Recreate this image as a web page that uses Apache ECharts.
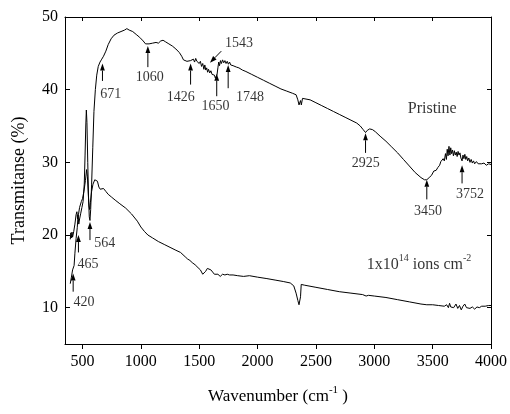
<!DOCTYPE html>
<html>
<head>
<meta charset="utf-8">
<script src="https://cdn.jsdelivr.net/npm/echarts@6/dist/echarts.min.js"></script>
<style>
  html, body { margin: 0; padding: 0; background: #fff; }
  #chart { width: 510px; height: 414px; }
</style>
</head>
<body>
<div id="chart"></div>
<script>
// FTIR transmittance spectra: pristine film and film irradiated at 1x10^14 ions cm^-2
const pristineWn = [395,405,415,420,428,435,445,455,462,468,475,485,495,505,515,522,528,533,538,545,552,558,564,570,578,588,598,610,622,635,650,665,680,700,720,745,770,800,830,860,880,900,930,960,990,1020,1040,1055,1070,1085,1100,1115,1130,1150,1170,1190,1210,1240,1270,1300,1330,1350,1365,1380,1395,1410,1426,1440,1450,1460,1470,1480,1490,1500,1510,1520,1530,1540,1548,1556,1564,1572,1580,1590,1600,1610,1620,1630,1638,1645,1652,1660,1667,1674,1682,1690,1700,1710,1720,1730,1740,1750,1760,1770,1780,1790,1800,1820,1840,1870,1900,1950,2000,2050,2100,2150,2200,2250,2300,2330,2345,2355,2362,2368,2375,2385,2400,2450,2500,2550,2600,2650,2700,2750,2800,2850,2880,2905,2925,2940,2960,2985,3010,3050,3100,3150,3200,3250,3300,3350,3400,3430,3450,3470,3490,3510,3530,3545,3560,3570,3580,3590,3600,3610,3618,3625,3632,3640,3648,3655,3662,3670,3678,3686,3694,3702,3710,3718,3726,3734,3742,3752,3760,3768,3776,3784,3792,3800,3810,3820,3830,3840,3850,3860,3875,3890,3905,3920,3940,3960,3980,4000];
const pristineT = [13.3,14.2,15.2,15.4,15.8,17.5,19.5,21.0,22.8,21.5,22.2,23.0,23.8,24.6,27.0,31.0,35.0,37.2,35.5,30.0,25.0,22.5,22.0,23.5,27.0,32.0,37.0,40.0,42.0,43.2,43.8,44.2,44.6,45.3,46.2,47.0,47.5,47.8,48.0,48.2,48.4,48.2,48.0,47.6,47.2,46.7,46.3,46.1,46.3,46.2,46.4,46.3,46.5,46.4,46.7,46.8,46.6,46.3,46.0,45.6,45.1,44.6,44.1,43.9,43.9,43.8,44.0,43.9,44.2,43.8,44.3,43.9,44.1,43.6,43.9,43.2,43.6,42.8,43.4,42.7,43.0,42.4,42.8,42.3,42.6,42.1,42.3,42.0,41.6,41.5,42.0,43.0,43.8,43.3,44.0,43.6,44.1,43.7,44.0,43.6,43.9,43.5,43.8,43.4,43.6,43.3,43.4,43.1,43.0,42.7,42.5,42.1,41.7,41.3,40.9,40.5,40.1,39.8,39.5,39.3,38.6,37.9,37.7,38.5,37.9,38.8,39.0,38.6,38.2,37.8,37.4,37.0,36.6,36.2,35.8,35.4,35.0,34.5,34.1,34.4,34.6,34.5,34.2,33.6,32.9,32.1,31.3,30.4,29.5,28.6,27.9,27.6,27.6,27.9,28.2,28.8,28.9,29.3,29.6,30.1,29.9,30.5,30.2,31.2,30.4,31.8,30.9,32.2,31.0,32.0,31.2,31.7,30.9,31.6,31.0,31.4,30.8,31.5,31.0,31.3,30.6,30.2,31.0,30.5,31.1,30.4,30.8,30.2,30.6,30.0,30.4,29.9,30.2,29.8,30.1,29.8,30.0,29.8,29.9,29.6,29.8,29.7];

const irradWn = [395,400,405,410,415,420,425,435,445,452,458,465,475,490,500,512,525,535,542,550,556,561,568,578,590,605,617,628,640,652,665,680,700,720,750,780,820,870,920,970,1000,1030,1060,1100,1150,1200,1250,1300,1340,1380,1400,1420,1440,1455,1465,1475,1490,1500,1510,1520,1530,1540,1555,1570,1585,1600,1615,1630,1645,1660,1680,1700,1720,1740,1760,1790,1830,1880,1930,2000,2080,2150,2220,2280,2310,2330,2345,2355,2362,2368,2374,2385,2400,2500,2600,2700,2800,2900,2930,2950,3000,3100,3200,3300,3400,3450,3500,3550,3600,3620,3635,3645,3655,3665,3680,3700,3715,3730,3745,3760,3775,3790,3805,3820,3840,3860,3880,3900,3920,3950,3980,4000];
const irradT = [19.4,20.3,19.6,20.4,19.7,19.5,20.5,21.5,22.8,23.2,22.2,22.8,23.8,24.6,25.0,26.0,27.5,29.0,28.0,25.5,24.0,23.5,24.5,26.0,27.0,27.6,27.8,27.4,26.6,26.3,26.5,26.4,26.0,25.6,25.2,24.8,24.3,23.7,22.9,21.9,21.1,20.5,20.0,19.6,19.1,18.7,18.3,17.9,17.6,17.0,16.7,16.5,16.2,16.4,15.9,16.1,15.5,15.7,15.2,15.0,14.6,14.8,15.0,15.4,15.6,15.2,14.9,14.6,14.5,14.6,14.3,14.6,14.5,14.6,14.5,14.5,14.4,14.3,14.4,14.2,14.0,13.8,13.6,13.4,13.0,12.0,11.0,10.4,10.2,11.5,13.2,13.3,13.1,12.8,12.5,12.2,12.0,11.8,11.6,11.7,11.6,11.4,11.1,10.8,10.5,10.4,10.4,10.3,10.2,10.4,10.0,10.6,10.1,10.3,10.0,10.5,9.9,10.3,9.7,10.2,10.5,10.0,10.2,9.9,10.1,9.8,10.1,10.0,10.2,10.2,10.3,10.3];

// Axis ticks
const xTicks = [500,1000,1500,2000,2500,3000,3500,4000];
const yTicks = [10,20,30,40,50];

// Band assignments: arrow tail -> arrow tip, and label centre
const peakText  = ['420','465','564','671','1060','1426','1543','1650','1748','2925','3450','3752'];
const arrowFrom = [[420,12.2],[465,17.6],[564,19.3],[671,41.2],[1060,43.1],[1426,40.7],[1689,45.3],[1650,39.1],[1748,40.2],[2925,31.3],[3450,24.9],[3752,27.1]];
const arrowTo   = [[420,14.7],[465,20.0],[564,21.8],[671,43.6],[1060,46.0],[1426,43.6],[1592,43.7],[1650,42.2],[1748,43.4],[2925,34.0],[3450,27.6],[3752,29.6]];
const labelAt   = [[512,10.7],[546,16.0],[690,18.8],[743,39.3],[1076,41.7],[1341,39.0],[1841,46.4],[1640,37.7],[1935,39.0],[2927,29.8],[3460,23.2],[3821,25.6]];

// Curve captions
const captionText = ['Pristine', '1x10{sup|14} ions cm{sup|-2}'];
const captionAt = [[3496,37.3],[3383,15.9]];

const SERIF = '"Liberation Serif", "DejaVu Serif", serif';
const INK = '#000';

const zip = (a, b) => a.map((v, i) => [v, b[i]]);

// Arrow with a filled triangular head, drawn in data coordinates
function renderArrow(params, api) {
  const p1 = api.coord([api.value(0), api.value(1)]);
  const p2 = api.coord([api.value(2), api.value(3)]);
  const dx = p2[0] - p1[0], dy = p2[1] - p1[1];
  const len = Math.sqrt(dx * dx + dy * dy) || 1;
  const ux = dx / len, uy = dy / len;
  const headL = 7, headW = 2.4;
  const bx = p2[0] - ux * headL, by = p2[1] - uy * headL;
  return {
    type: 'group',
    children: [
      { type: 'line', shape: { x1: p1[0], y1: p1[1], x2: bx, y2: by },
        style: { stroke: INK, lineWidth: 1 } },
      { type: 'polygon',
        shape: { points: [[p2[0], p2[1]], [bx - uy * headW, by + ux * headW], [bx + uy * headW, by - ux * headW]] },
        style: { fill: INK } }
    ]
  };
}

const chart = echarts.init(document.getElementById('chart'), null, { renderer: 'canvas' });

const xBase = {
  type: 'value', min: 350, max: 4000,
  splitLine: { show: false },
  axisLine: { onZero: false, lineStyle: { color: '#000', width: 1 } }
};
const yBase = {
  type: 'value', min: 5, max: 50,
  splitLine: { show: false },
  axisLine: { onZero: false, lineStyle: { color: '#000', width: 1 } }
};
const plain = (v) => String(v);

chart.setOption({
  animation: false,
  backgroundColor: '#fff',
  grid: { left: 65, right: 18, top: 17, bottom: 60, containLabel: false },
  xAxis: [
    Object.assign({}, xBase, {
      position: 'bottom',
      name: 'Wavenumber (cm{sup|-1} )',
      nameLocation: 'middle',
      nameGap: 41,
      nameTextStyle: {
        fontFamily: SERIF, fontSize: 17, color: INK, lineHeight: 24,
        rich: { sup: { fontFamily: SERIF, fontSize: 11, lineHeight: 11, verticalAlign: 'top', color: INK } }
      },
      axisTick: { show: true, inside: false, length: 5, customValues: xTicks, lineStyle: { color: '#000' } },
      axisLabel: { customValues: xTicks, formatter: plain, margin: 10, fontFamily: SERIF, fontSize: 16, color: INK }
    }),
    Object.assign({}, xBase, {
      position: 'top',
      axisTick: { show: true, inside: true, length: 4, customValues: xTicks, lineStyle: { color: '#000' } },
      axisLabel: { show: false }
    })
  ],
  yAxis: [
    Object.assign({}, yBase, {
      position: 'left',
      name: 'Transmitanse (%)',
      nameLocation: 'middle',
      nameGap: 37,
      nameTextStyle: { fontFamily: SERIF, fontSize: 18, color: INK },
      axisTick: { show: true, inside: true, length: 5, customValues: yTicks, lineStyle: { color: '#000' } },
      axisLabel: { customValues: yTicks, formatter: plain, margin: 7, fontFamily: SERIF, fontSize: 16, color: INK }
    }),
    Object.assign({}, yBase, {
      position: 'right',
      axisTick: { show: true, inside: true, length: 4, customValues: yTicks, lineStyle: { color: '#000' } },
      axisLabel: { show: false }
    })
  ],
  series: [
    {
      name: 'Pristine', type: 'line', data: zip(pristineWn, pristineT),
      showSymbol: false, symbol: 'none', lineStyle: { color: INK, width: 1 }, z: 3
    },
    {
      name: 'Irradiated', type: 'line', data: zip(irradWn, irradT),
      showSymbol: false, symbol: 'none', lineStyle: { color: INK, width: 1 }, z: 3
    },
    {
      // band arrows
      type: 'custom', silent: true, renderItem: renderArrow,
      data: arrowFrom.map((p, i) => [p[0], p[1], arrowTo[i][0], arrowTo[i][1]]),
      encode: { x: [0, 2], y: [1, 3] }
    },
    {
      // band labels
      type: 'scatter', symbolSize: 0, silent: true,
      data: labelAt.map((p, i) => [p[0], p[1], peakText[i]]),
      label: {
        show: true, position: 'inside', formatter: (p) => p.value[2],
        fontFamily: SERIF, fontSize: 14, color: INK
      }
    },
    {
      // curve captions
      type: 'scatter', symbolSize: 0, silent: true,
      data: captionAt.map((p, i) => [p[0], p[1], captionText[i]]),
      label: {
        show: true, position: 'inside', formatter: (p) => p.value[2],
        fontFamily: SERIF, fontSize: 16, color: INK, lineHeight: 22,
        rich: { sup: { fontFamily: SERIF, fontSize: 10, lineHeight: 10, verticalAlign: 'top', color: INK } }
      }
    }
  ]
});
</script>
</body>
</html>
